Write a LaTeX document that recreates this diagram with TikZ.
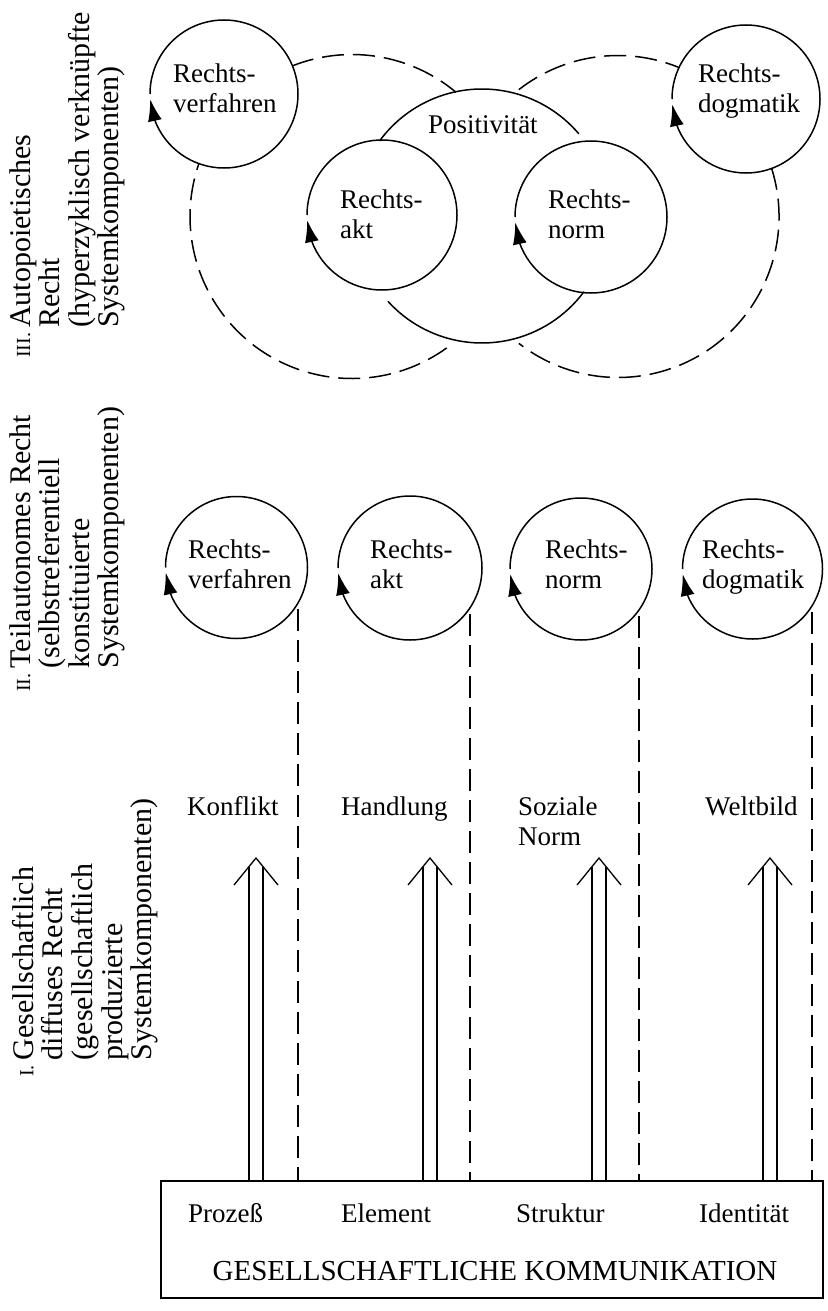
\documentclass[tikz,border=0pt]{standalone}
\usepackage{fontspec}
\setmainfont{Liberation Serif}
\usetikzlibrary{arrows.meta,bending,calc}
\newcommand\twolines[2]{\begin{tabular}[t]{@{}l@{}}#1\\#2\end{tabular}}
\newcommand\numfont{\fontsize{20}{20}\selectfont}
\begin{document}
\begin{tikzpicture}[x=1pt,y=-1pt,
  every node/.style={inner sep=0pt, font=\fontsize{27}{30}\selectfont},
  txt/.style={anchor=base west},
  ring/.style={line width=1.5pt},
  cyc/.style={line width=1.5pt,-{Latex[length=22pt,width=14pt]}},
  dsh/.style={line width=1.5pt,dash pattern=on 22pt off 9pt},
  shaft/.style={line width=1.3pt},
  side/.style={rotate=90, anchor=north west, font=\fontsize{30}{28.5}\selectfont}]
\useasboundingbox (0,0) rectangle (827,1311);

% ---------- side labels ----------
\node[side] (l3) at (9,358) {\begin{tabular}{@{}l@{\hspace{5pt}}l@{}}{\numfont III.}&Autopoietisches\\&Recht\\&(hyperzyklisch verknüpfte\\&Systemkomponenten)\end{tabular}};
\node[side] (l2) at (9,692) {\begin{tabular}{@{}l@{\hspace{5pt}}l@{}}{\numfont II.}&Teilautonomes Recht\\&(selbstreferentiell\\&konstituierte\\&Systemkomponenten)\end{tabular}};
\node[side] (l1) at (12,1077) {\begin{tabular}{@{}l@{\hspace{5pt}}l@{}}{\numfont I.}&Gesellschaftlich\\&diffuses Recht\\&(gesellschaftlich\\&produzierte\\&Systemkomponenten)\end{tabular}};

% ---------- level III ----------
\coordinate (R1) at (224,94);
\coordinate (R2) at (382,215);
\coordinate (R3) at (591,217);
\coordinate (R4) at (746,99);
\coordinate (P)  at (482,216);
\coordinate (C1) at (352,216.5);
\coordinate (C2) at (618,216.5);

\draw[cyc] (R1) ++(180:74pt) arc[start angle=180, end angle=-176, radius=74pt];
\draw[cyc] (R2) ++(180:75pt) arc[start angle=180, end angle=-176, radius=75pt];
\draw[cyc] (R3) ++(180:76pt) arc[start angle=180, end angle=-176, radius=76pt];
\draw[cyc] (R4) ++(180:74pt) arc[start angle=180, end angle=-176, radius=74pt];

\draw[ring] (P) ++(143.8:127pt) arc[start angle=143.8, end angle=40.3, radius=127pt];
\draw[ring] (P) ++(222.2:127pt) arc[start angle=222.2, end angle=323.4, radius=127pt];

\draw[dsh] (C1) ++(111.6:162pt) arc[start angle=111.6, end angle=50.1, radius=162pt];
\draw[dsh] (C1) ++(-54.2:162pt) arc[start angle=-54.2, end angle=-199.1, radius=162pt];
\draw[dsh] (C2) ++(128:161pt) arc[start angle=128, end angle=67.7, radius=161pt];
\draw[dsh] (C2) ++(17.4:161pt) arc[start angle=17.4, end angle=-128, radius=161pt];

\node[txt] (tR1) at (173,83) {\twolines{Rechts-}{verfahren}};
\node[txt] (tR2) at (340,208) {\twolines{Rechts-}{akt}};
\node[txt] (tP)  at (428,133) {Positivität};
\node[txt] (tR3) at (548,208) {\twolines{Rechts-}{norm}};
\node[txt] (tR4) at (698,83) {\twolines{Rechts-}{dogmatik}};

% ---------- level II ----------
\coordinate (S1) at (236.5,567.5);
\coordinate (S2) at (410,568);
\coordinate (S3) at (581,569);
\coordinate (S4) at (752.5,569);
\draw[cyc] (S1) ++(180:71pt) arc[start angle=180, end angle=-176, radius=71pt];
\draw[cyc] (S2) ++(180:72pt) arc[start angle=180, end angle=-176, radius=72pt];
\draw[cyc] (S3) ++(180:71pt) arc[start angle=180, end angle=-176, radius=71pt];
\draw[cyc] (S4) ++(180:70pt) arc[start angle=180, end angle=-176, radius=70pt];

\node[txt] (tS1) at (188,558) {\twolines{Rechts-}{verfahren}};
\node[txt] (tS2) at (370,558) {\twolines{Rechts-}{akt}};
\node[txt] (tS3) at (545,558) {\twolines{Rechts-}{norm}};
\node[txt] (tS4) at (702,558) {\twolines{Rechts-}{dogmatik}};

% ---------- base box ----------
\node[draw, line width=1.5pt, minimum width=662pt, minimum height=117pt, anchor=north west] (box) at (160,1180) {};
\node[txt] (b1) at (188,1222) {Prozeß};
\node[txt] (b2) at (341,1222) {Element};
\node[txt] (b3) at (516,1222) {Struktur};
\node[txt] (b4) at (699,1222) {Identität};
\node[anchor=base, font=\fontsize{29}{30}\selectfont] (gk) at (495,1280) {GESELLSCHAFTLICHE KOMMUNIKATION};

% ---------- level I labels ----------
\node[txt] (k1) at (187,815) {Konflikt};
\node[txt] (k2) at (341,815) {Handlung};
\node[txt] (k3) at (518,815) {\twolines{Soziale}{Norm}};
\node[txt] (k4) at (705,815) {Weltbild};

% ---------- dashed verticals ----------
\coordinate (d1) at (298,609);
\coordinate (d2) at (470,614);
\coordinate (d3) at (639,616);
\coordinate (d4) at (812,612);
\foreach \d in {d1,d2,d3,d4}{
  \draw[dsh] (\d) -- (\d |- box.north);
}

% ---------- double arrows ----------
\foreach \n/\x in {1/256,2/430,3/599,4/770}{
  \coordinate (a\n) at (\x,858);
  \coordinate (a\n l) at ($(a\n)+(-7,8.5)$);
  \coordinate (a\n r) at ($(a\n)+(7,8.5)$);
  \draw[shaft] ($(a\n)+(-22,27)$) -- (a\n) -- ($(a\n)+(22,27)$);
  \draw[shaft] (a\n l) -- (a\n l |- box.north);
  \draw[shaft] (a\n r) -- (a\n r |- box.north);
}
\end{tikzpicture}
\end{document}
